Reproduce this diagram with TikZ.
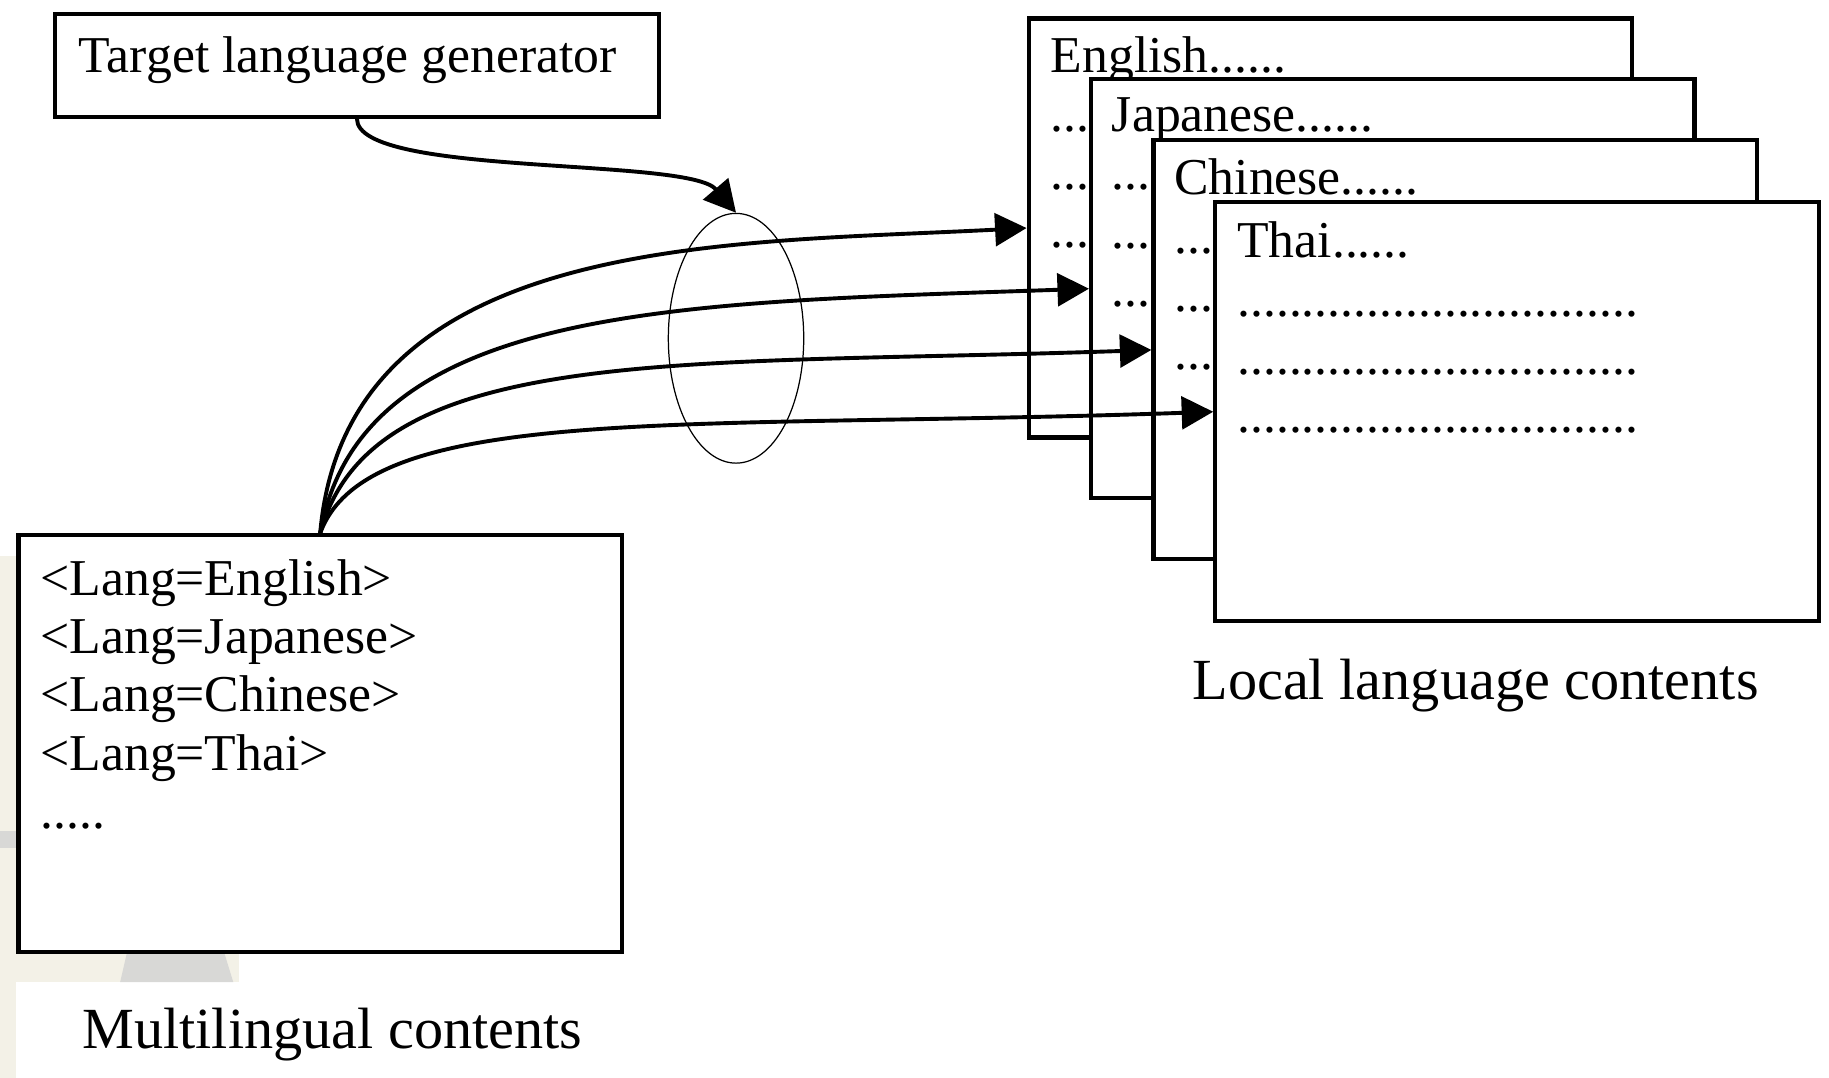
\documentclass[tikz,border=0pt]{standalone}
\usepackage{fontspec}
\setmainfont{Liberation Serif}
\usetikzlibrary{arrows.meta,shapes.geometric}

\definecolor{wmbeige}{HTML}{F3F1E7}
\definecolor{wmgrey}{HTML}{D8D8D6}

\newcommand{\dotline}{\foreach\k in {1,...,31}{.}}

\tikzset{
  box/.style={draw, line width=1pt, fill=white, inner sep=0pt},
  page/.style={box, minimum width=5.17cm, minimum height=3.59cm},
  boxtext/.style={anchor=north west, align=left, inner sep=0pt, font=\fontsize{12.6}{14.2}\selectfont},
  caption/.style={anchor=base, inner sep=0pt, font=\fontsize{14.2}{17}\selectfont},
  link/.style={-{Triangle[length=0.27cm,width=0.28cm]}, line width=0.95pt},
}

\begin{document}
\begin{tikzpicture}[x=0.01cm, y=0.01cm]
\useasboundingbox (0,0) rectangle (1568,924);
% faint watermark of the scan
\fill[wmbeige] (0,0) rectangle (14,447);
\fill[wmbeige] (14,82) rectangle (205,108);
\fill[wmgrey] (103,82) -- (109,108) -- (192,108) -- (200,82) -- cycle;
\fill[wmgrey] (0,197) rectangle (14,212);

% generator and multilingual input
\node[box, minimum width=5.18cm, minimum height=0.88cm] (gen) at (306,868) {};
\node[boxtext] (gentext) at (67,893) {Target language generator};
\node[box, minimum width=5.17cm, minimum height=3.57cm] (mlbox) at (274.5,286.5) {};
\node[boxtext] (mltext) at (34,445) {<Lang=English>\\<Lang=Japanese>\\<Lang=Chinese>\\<Lang=Thai>\\.....};
\node[caption] (mlcap) at (285,25) {Multilingual contents};

% local language pages
\node[page] (eng) at (1140.5,728.5) {};
\node[boxtext] (engtext) at ([shift={(20,-17)}]eng.north west) {English......\\\dotline\\\dotline\\\dotline};
\node[page] (jap) at (1194,676.5) {};
\node[boxtext] (japtext) at ([shift={(19,-17)}]jap.north west) {Japanese......\\\dotline\\\dotline\\\dotline};
\node[page] (chi) at (1247.5,624) {};
\node[boxtext] (chitext) at ([shift={(19,-17)}]chi.north west) {Chinese......\\\dotline\\\dotline\\\dotline};
\node[page] (thai) at (1300.5,571) {};
\node[boxtext] (thaitext) at ([shift={(20,-18)}]thai.north west) {Thai......\\\dotline\\\dotline\\\dotline};
\node[caption] (loccap) at (1265,324) {Local language contents};

% selector and links
\node[draw, ellipse, line width=0.3pt, minimum width=1.16cm, minimum height=2.14cm, inner sep=0pt] (sel) at (631,634) {};
\draw[link] (gen.south) .. controls +(0,-50) and +(-41,48) .. (sel.north);
\draw[link] (mlbox.north) to[out=85,in=183] (eng.west);
\draw[link] (mlbox.north) to[out=80,in=182,out distance=2cm,in distance=3.5cm] (jap.west);
\draw[link] (mlbox.north) to[out=75,in=182,out distance=1.7cm,in distance=4cm] (chi.west);
\draw[link] (mlbox.north) to[out=70,in=182,out distance=1.2cm,in distance=4.5cm] (thai.west);
\end{tikzpicture}
\end{document}
